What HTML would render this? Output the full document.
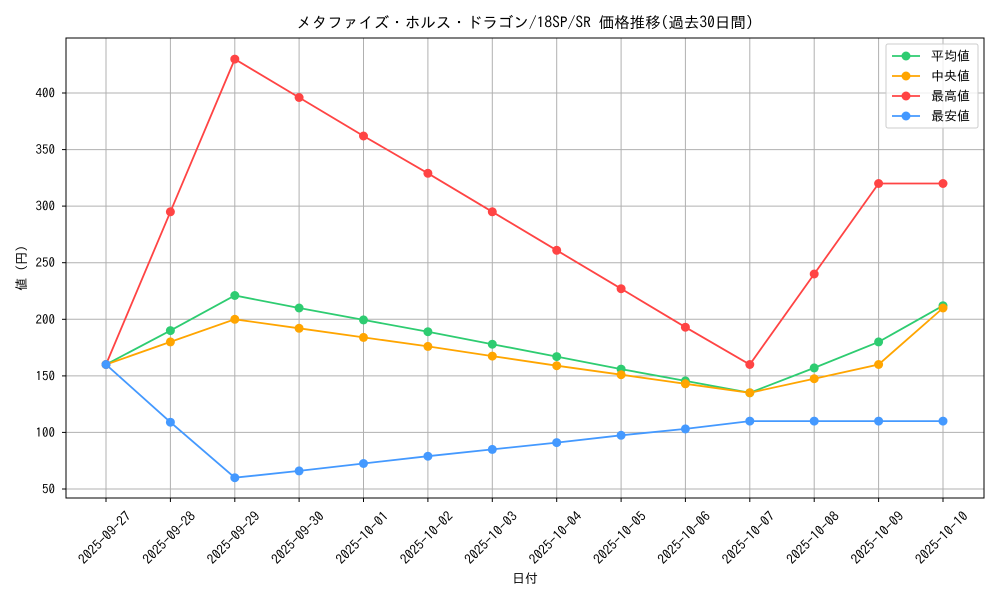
<!DOCTYPE html>
<html><head><meta charset="utf-8"><style>
body{margin:0;background:#fff}
svg text{font-family:"IPAGothic","Liberation Sans",sans-serif;fill:#000}
</style></head><body>
<svg width="1000" height="600" xmlns="http://www.w3.org/2000/svg">
<rect width="1000" height="600" fill="#fff"/>
<g stroke="#b0b0b0" stroke-width="1">
<line x1="106" y1="38" x2="106" y2="498"/><line x1="170.4" y1="38" x2="170.4" y2="498"/><line x1="234.8" y1="38" x2="234.8" y2="498"/><line x1="299.1" y1="38" x2="299.1" y2="498"/><line x1="363.5" y1="38" x2="363.5" y2="498"/><line x1="427.9" y1="38" x2="427.9" y2="498"/><line x1="492.3" y1="38" x2="492.3" y2="498"/><line x1="556.7" y1="38" x2="556.7" y2="498"/><line x1="621.1" y1="38" x2="621.1" y2="498"/><line x1="685.4" y1="38" x2="685.4" y2="498"/><line x1="749.8" y1="38" x2="749.8" y2="498"/><line x1="814.2" y1="38" x2="814.2" y2="498"/><line x1="878.6" y1="38" x2="878.6" y2="498"/><line x1="943" y1="38" x2="943" y2="498"/>
<line x1="66" y1="489" x2="984" y2="489"/><line x1="66" y1="432.4" x2="984" y2="432.4"/><line x1="66" y1="375.9" x2="984" y2="375.9"/><line x1="66" y1="319.3" x2="984" y2="319.3"/><line x1="66" y1="262.7" x2="984" y2="262.7"/><line x1="66" y1="206.1" x2="984" y2="206.1"/><line x1="66" y1="149.6" x2="984" y2="149.6"/><line x1="66" y1="93" x2="984" y2="93"/>
</g>
<g stroke="#000" stroke-width="1">
<line x1="62" y1="489" x2="66" y2="489"/><line x1="62" y1="432.4" x2="66" y2="432.4"/><line x1="62" y1="375.9" x2="66" y2="375.9"/><line x1="62" y1="319.3" x2="66" y2="319.3"/><line x1="62" y1="262.7" x2="66" y2="262.7"/><line x1="62" y1="206.1" x2="66" y2="206.1"/><line x1="62" y1="149.6" x2="66" y2="149.6"/><line x1="62" y1="93" x2="66" y2="93"/>
<line x1="106" y1="498" x2="106" y2="502"/><line x1="170.4" y1="498" x2="170.4" y2="502"/><line x1="234.8" y1="498" x2="234.8" y2="502"/><line x1="299.1" y1="498" x2="299.1" y2="502"/><line x1="363.5" y1="498" x2="363.5" y2="502"/><line x1="427.9" y1="498" x2="427.9" y2="502"/><line x1="492.3" y1="498" x2="492.3" y2="502"/><line x1="556.7" y1="498" x2="556.7" y2="502"/><line x1="621.1" y1="498" x2="621.1" y2="502"/><line x1="685.4" y1="498" x2="685.4" y2="502"/><line x1="749.8" y1="498" x2="749.8" y2="502"/><line x1="814.2" y1="498" x2="814.2" y2="502"/><line x1="878.6" y1="498" x2="878.6" y2="502"/><line x1="943" y1="498" x2="943" y2="502"/>
</g>
<g font-size="13" text-anchor="end">
<text x="55" y="493.5">50</text><text x="55" y="437">100</text><text x="55" y="380.4">150</text><text x="55" y="323.8">200</text><text x="55" y="267.2">250</text><text x="55" y="210.6">300</text><text x="55" y="154.1">350</text><text x="55" y="97.5">400</text>
</g>
<g font-size="13.5" text-anchor="middle">
<text transform="translate(108,541) rotate(-45)">2025-09-27</text>
<text transform="translate(172.4,541) rotate(-45)">2025-09-28</text>
<text transform="translate(236.8,541) rotate(-45)">2025-09-29</text>
<text transform="translate(301.1,541) rotate(-45)">2025-09-30</text>
<text transform="translate(365.5,541) rotate(-45)">2025-10-01</text>
<text transform="translate(429.9,541) rotate(-45)">2025-10-02</text>
<text transform="translate(494.3,541) rotate(-45)">2025-10-03</text>
<text transform="translate(558.7,541) rotate(-45)">2025-10-04</text>
<text transform="translate(623.1,541) rotate(-45)">2025-10-05</text>
<text transform="translate(687.4,541) rotate(-45)">2025-10-06</text>
<text transform="translate(751.8,541) rotate(-45)">2025-10-07</text>
<text transform="translate(816.2,541) rotate(-45)">2025-10-08</text>
<text transform="translate(880.6,541) rotate(-45)">2025-10-09</text>
<text transform="translate(945,541) rotate(-45)">2025-10-10</text>
</g>
<g fill="none" stroke-width="1.8">
<polyline stroke="#2ecc71" points="106,364.5 170.4,330.6 234.8,295.5 299.1,308 363.5,319.9 427.9,331.7 492.3,344.2 556.7,356.6 621.1,369.1 685.4,380.9 749.8,392.8 814.2,367.9 878.6,341.9 943,305.7"/>
<polyline stroke="#ffa500" points="106,364.5 170.4,341.9 234.8,319.3 299.1,328.3 363.5,337.4 427.9,346.4 492.3,356.1 556.7,365.7 621.1,374.7 685.4,383.8 749.8,392.8 814.2,378.7 878.6,364.5 943,308"/>
<polyline stroke="#ff4444" points="106,364.5 170.4,211.8 234.8,59.1 299.1,97.5 363.5,136 427.9,173.3 492.3,211.8 556.7,250.3 621.1,288.7 685.4,327.2 749.8,364.5 814.2,274 878.6,183.5 943,183.5"/>
<polyline stroke="#4499ff" points="106,364.5 170.4,422.2 234.8,477.7 299.1,470.9 363.5,463.5 427.9,456.2 492.3,449.4 556.7,442.6 621.1,435.3 685.4,428.9 749.8,421.1 814.2,421.1 878.6,421.1 943,421.1"/>
</g>
<g fill="#2ecc71"><circle cx="106" cy="364.5" r="4.5"/><circle cx="170.4" cy="330.6" r="4.5"/><circle cx="234.8" cy="295.5" r="4.5"/><circle cx="299.1" cy="308" r="4.5"/><circle cx="363.5" cy="319.9" r="4.5"/><circle cx="427.9" cy="331.7" r="4.5"/><circle cx="492.3" cy="344.2" r="4.5"/><circle cx="556.7" cy="356.6" r="4.5"/><circle cx="621.1" cy="369.1" r="4.5"/><circle cx="685.4" cy="380.9" r="4.5"/><circle cx="749.8" cy="392.8" r="4.5"/><circle cx="814.2" cy="367.9" r="4.5"/><circle cx="878.6" cy="341.9" r="4.5"/><circle cx="943" cy="305.7" r="4.5"/></g>
<g fill="#ffa500"><circle cx="106" cy="364.5" r="4.5"/><circle cx="170.4" cy="341.9" r="4.5"/><circle cx="234.8" cy="319.3" r="4.5"/><circle cx="299.1" cy="328.3" r="4.5"/><circle cx="363.5" cy="337.4" r="4.5"/><circle cx="427.9" cy="346.4" r="4.5"/><circle cx="492.3" cy="356.1" r="4.5"/><circle cx="556.7" cy="365.7" r="4.5"/><circle cx="621.1" cy="374.7" r="4.5"/><circle cx="685.4" cy="383.8" r="4.5"/><circle cx="749.8" cy="392.8" r="4.5"/><circle cx="814.2" cy="378.7" r="4.5"/><circle cx="878.6" cy="364.5" r="4.5"/><circle cx="943" cy="308" r="4.5"/></g>
<g fill="#ff4444"><circle cx="106" cy="364.5" r="4.5"/><circle cx="170.4" cy="211.8" r="4.5"/><circle cx="234.8" cy="59.1" r="4.5"/><circle cx="299.1" cy="97.5" r="4.5"/><circle cx="363.5" cy="136" r="4.5"/><circle cx="427.9" cy="173.3" r="4.5"/><circle cx="492.3" cy="211.8" r="4.5"/><circle cx="556.7" cy="250.3" r="4.5"/><circle cx="621.1" cy="288.7" r="4.5"/><circle cx="685.4" cy="327.2" r="4.5"/><circle cx="749.8" cy="364.5" r="4.5"/><circle cx="814.2" cy="274" r="4.5"/><circle cx="878.6" cy="183.5" r="4.5"/><circle cx="943" cy="183.5" r="4.5"/></g>
<g fill="#4499ff"><circle cx="106" cy="364.5" r="4.5"/><circle cx="170.4" cy="422.2" r="4.5"/><circle cx="234.8" cy="477.7" r="4.5"/><circle cx="299.1" cy="470.9" r="4.5"/><circle cx="363.5" cy="463.5" r="4.5"/><circle cx="427.9" cy="456.2" r="4.5"/><circle cx="492.3" cy="449.4" r="4.5"/><circle cx="556.7" cy="442.6" r="4.5"/><circle cx="621.1" cy="435.3" r="4.5"/><circle cx="685.4" cy="428.9" r="4.5"/><circle cx="749.8" cy="421.1" r="4.5"/><circle cx="814.2" cy="421.1" r="4.5"/><circle cx="878.6" cy="421.1" r="4.5"/><circle cx="943" cy="421.1" r="4.5"/></g>
<rect x="66" y="38" width="918" height="460" fill="none" stroke="#000" stroke-width="1"/>
<text x="525" y="28" font-size="15.5" text-anchor="middle">メタファイズ・ホルス・ドラゴン/18SP/SR 価格推移(過去30日間)</text>
<text x="525" y="583" font-size="13" text-anchor="middle">日付</text>
<text transform="translate(26,268) rotate(-90)" font-size="13" text-anchor="middle">値 (円)</text>
<rect x="886" y="44" width="92" height="84" fill="#fff" fill-opacity="0.8" stroke="#ccc" rx="2"/>
<g stroke-width="1.8">
<line x1="892" y1="56" x2="920" y2="56" stroke="#2ecc71"/><circle cx="906" cy="56" r="4.5" fill="#2ecc71"/>
<line x1="892" y1="76" x2="920" y2="76" stroke="#ffa500"/><circle cx="906" cy="76" r="4.5" fill="#ffa500"/>
<line x1="892" y1="96" x2="920" y2="96" stroke="#ff4444"/><circle cx="906" cy="96" r="4.5" fill="#ff4444"/>
<line x1="892" y1="116" x2="920" y2="116" stroke="#4499ff"/><circle cx="906" cy="116" r="4.5" fill="#4499ff"/>
</g>
<g font-size="13"><text x="931" y="60.5">平均値</text><text x="931" y="80.5">中央値</text><text x="931" y="100.5">最高値</text><text x="931" y="120.5">最安値</text></g>
</svg>
</body></html>
